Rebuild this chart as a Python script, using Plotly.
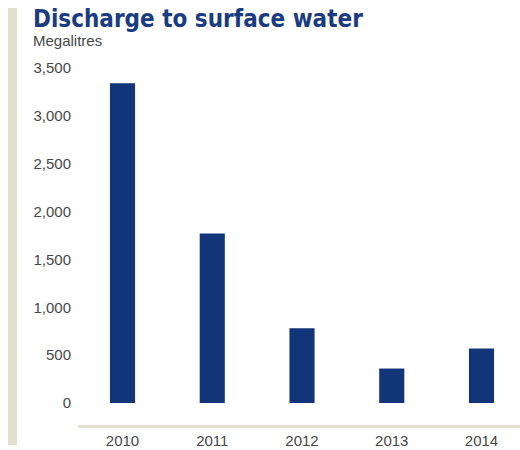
import plotly.graph_objects as go

# Discharge to surface water, megalitres per year
years = ["2010", "2011", "2012", "2013", "2014"]
discharge_ml = [3340, 1770, 780, 360, 570]
y_ticks = [0, 500, 1000, 1500, 2000, 2500, 3000, 3500]

BAR_BLUE = "#12357A"
TITLE_BLUE = "#1B3C80"
BEIGE = "#E3E0CF"
TEXT_GREY = "#474747"

W, H = 520, 450
L, R, T, B = 78, 0, 60, 25
plot_w = W - L - R
plot_h = H - T - B


def px_to_paper_x(px):
    return (px - L) / plot_w


def px_to_paper_y(py):
    return (H - B - py) / plot_h


fig = go.Figure(
    go.Bar(
        x=list(range(len(years))),
        y=discharge_ml,
        width=0.28,
        marker=dict(color=BAR_BLUE, line=dict(width=0)),
        hoverinfo="skip",
    )
)

fig.update_layout(
    width=W,
    height=H,
    margin=dict(l=L, r=R, t=T, b=B, pad=0),
    paper_bgcolor="white",
    plot_bgcolor="white",
    showlegend=False,
    font=dict(family="Liberation Sans, Arial, sans-serif", size=15, color=TEXT_GREY),
    xaxis=dict(
        range=[-0.496, 4.429],
        tickmode="array",
        tickvals=list(range(len(years))),
        ticktext=years,
        showgrid=False,
        zeroline=False,
        showline=True,
        linecolor=BEIGE,
        linewidth=3,
        ticks="",
        automargin=False,
        tickfont=dict(size=15, color=TEXT_GREY),
    ),
    yaxis=dict(
        range=[-230, 3584],
        tickmode="array",
        tickvals=y_ticks,
        tickformat=",",
        showgrid=False,
        zeroline=False,
        showline=False,
        ticks="",
        automargin=False,
        ticklabelstandoff=6,
        tickfont=dict(size=15, color=TEXT_GREY),
    ),
    shapes=[
        dict(
            type="rect",
            xref="paper",
            yref="paper",
            x0=px_to_paper_x(8),
            x1=px_to_paper_x(17),
            y0=px_to_paper_y(445),
            y1=px_to_paper_y(8),
            fillcolor=BEIGE,
            line=dict(width=0),
            layer="below",
        )
    ],
    annotations=[
        dict(
            text="<b>Discharge to surface water</b>",
            xref="paper",
            yref="paper",
            x=px_to_paper_x(31),
            y=px_to_paper_y(19),
            xanchor="left",
            yanchor="middle",
            showarrow=False,
            font=dict(family="DejaVu Sans Condensed, DejaVu Sans, sans-serif", size=24, color=TITLE_BLUE),
        ),
        dict(
            text="Megalitres",
            xref="paper",
            yref="paper",
            x=px_to_paper_x(31),
            y=px_to_paper_y(40),
            xanchor="left",
            yanchor="middle",
            showarrow=False,
            font=dict(size=15, color=TEXT_GREY),
        ),
    ],
)

fig.write_html("out.html")
